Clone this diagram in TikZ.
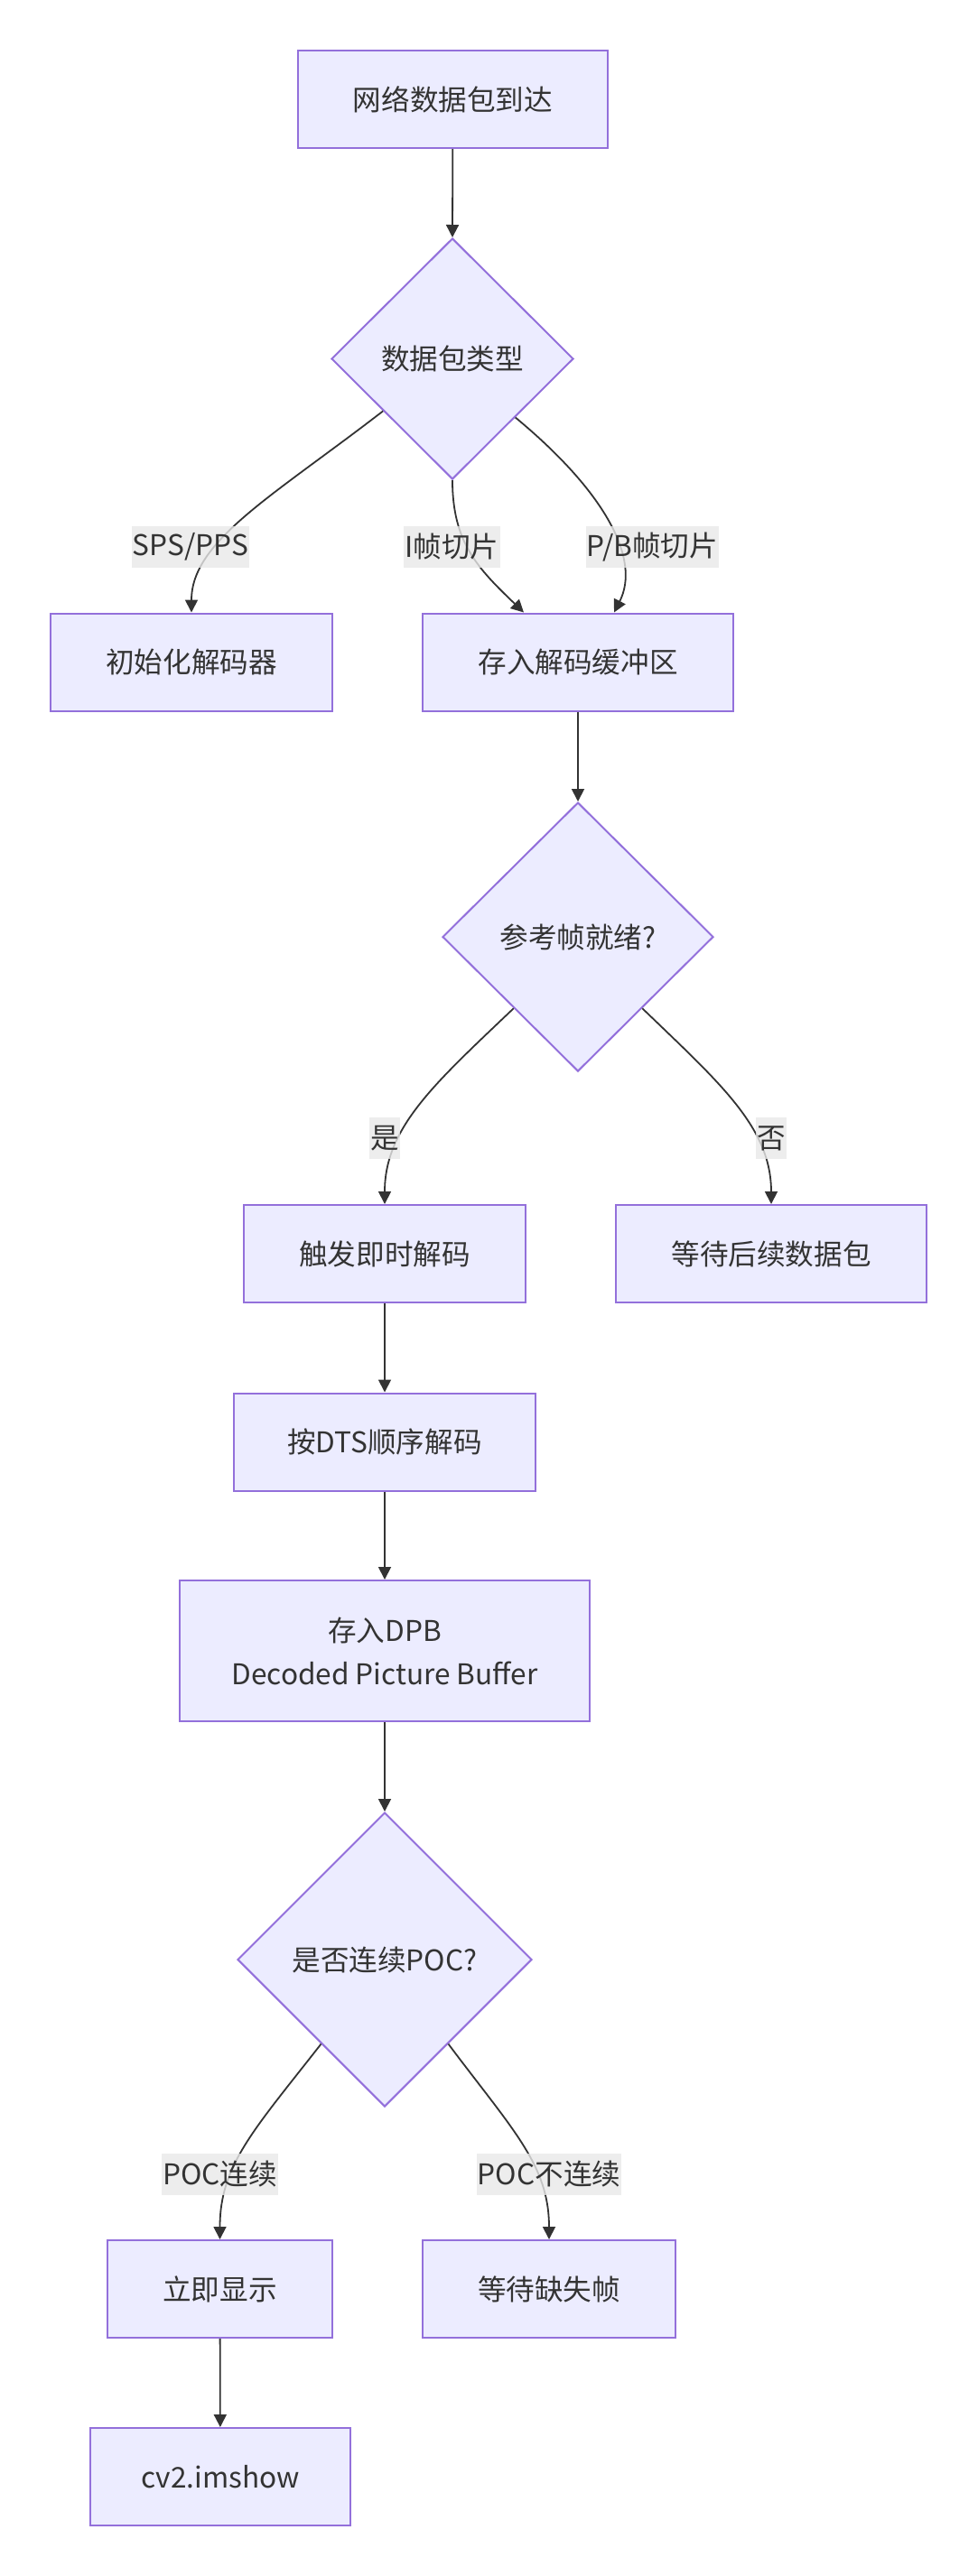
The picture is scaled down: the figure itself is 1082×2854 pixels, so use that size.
\documentclass[tikz,border=0pt]{standalone}
\usepackage{fontspec}
\setmainfont{Noto Sans CJK SC}
\usetikzlibrary{shapes.geometric,arrows.meta}

\definecolor{nodefill}{HTML}{ECECFF}
\definecolor{nodeline}{HTML}{9370DB}
\definecolor{ink}{HTML}{333333}
\definecolor{lblfill}{HTML}{E8E8E8}

\begin{document}
\begin{tikzpicture}[x=0.5pt, y=-0.5pt,
    >={Triangle[length=7pt,width=7pt]},
    every node/.style={font=\fontsize{15.8pt}{24pt}\selectfont, text=ink},
    box/.style={draw=nodeline, fill=nodefill, line width=1pt,
        minimum height=54pt, inner sep=2pt, align=center},
    choice/.style={diamond, draw=nodeline, fill=nodefill, line width=1pt, inner sep=0pt},
    link/.style={->, draw=ink, line width=0.9pt},
    tag/.style={fill=lblfill, fill opacity=0.8, text opacity=1,
        inner xsep=0.5pt, inner ysep=0pt, minimum height=23pt}]

% Page frame (pixels of the reference)
\useasboundingbox (0,0) rectangle (1082,2854);

% Upper part: packet arrival
\node[box, minimum width=171.5pt] (arrive) at (501.5,110) {网络数据包到达};
\node[choice, minimum width=134pt, minimum height=133.5pt] (ptype) at (501,397.5) {数据包类型};
\node[box, minimum width=156pt] (initdec) at (212,733.5) {初始化解码器};
\node[box, minimum width=172pt] (buffer) at (640,733.5) {存入解码缓冲区};

% Middle part: reference check and decoding
\node[choice, minimum width=150pt, minimum height=149pt] (refready) at (640,1038) {参考帧就绪?};
\node[box, minimum width=156pt] (decnow) at (426,1389) {触发即时解码};
\node[box, minimum width=172pt] (waitpkt) at (854,1389) {等待后续数据包};
\node[box, minimum width=167pt] (dtsdec) at (426,1597.5) {按DTS顺序解码};
\node[box, minimum width=227pt, minimum height=78pt] (dpb) at (426,1829)
    {存入DPB\\Decoded Picture Buffer};

% Lower part: display order
\node[choice, minimum width=163pt, minimum height=163pt] (pocq) at (426,2171) {是否连续POC?};
\node[box, minimum width=124.5pt] (display) at (243.5,2536) {立即显示};
\node[box, minimum width=140pt] (waitmiss) at (608,2536) {等待缺失帧};
\node[box, minimum width=144pt] (imshow) at (244,2744) {cv2.imshow};

% Straight links
\draw[link] (arrive) -- (ptype.north);
\draw[link] (buffer) -- (refready.north);
\draw[link] (decnow) -- (dtsdec);
\draw[link] (dtsdec) -- (dpb);
\draw[link] (dpb) -- (pocq.north);
\draw[link] (display) -- (imshow);

% Curved branches
\draw[link] (ptype.217) .. controls +(-123,95) and +(0,-79) .. (initdec.north);
\draw[link] (ptype.south) .. controls +(0,69) and +(-51,-49) .. ([xshift=-30pt]buffer.north);
\draw[link] (ptype.-43) .. controls +(99,82) and +(30,-59) .. ([xshift=20pt]buffer.north);
\draw[link] (refready.228) .. controls +(-87,83) and +(0,-85) .. (decnow.north);
\draw[link] (refready.-48) .. controls +(86,83) and +(0,-85) .. (waitpkt.north);
\draw[link] (pocq.233) .. controls +(-75,96) and +(0,-82) .. (display.north);
\draw[link] (pocq.-53) .. controls +(72,96) and +(0,-82) .. (waitmiss.north);

% Branch labels
\node[tag] (lsps) at (211,606) {SPS/PPS};
\node[tag] (lislice) at (500.5,606) {I帧切片};
\node[tag] (lpbslice) at (722.5,606) {P/B帧切片};
\node[tag] (lyes) at (426,1261) {是};
\node[tag] (lno) at (854,1261) {否};
\node[tag] (lcont) at (243.5,2408.5) {POC连续};
\node[tag] (lgap) at (608,2408.5) {POC不连续};

\end{tikzpicture}
\end{document}
